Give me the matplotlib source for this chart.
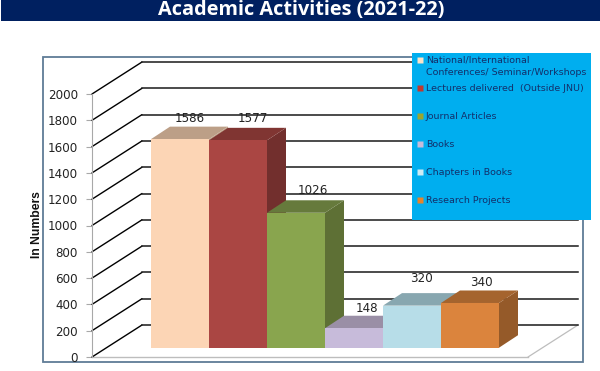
import matplotlib
matplotlib.use("Agg")
import matplotlib.pyplot as plt
from matplotlib.lines import Line2D
from matplotlib.patches import Rectangle
from matplotlib.transforms import Affine2D

categories = ["National/International\nConferences/ Seminar/Workshops",
              "Lectures delivered  (Outside JNU)", "Journal Articles", "Books",
              "Chapters in Books", "Research Projects"]
values = [1586, 1577, 1026, 148, 320, 340]
y_ticks = [0, 200, 400, 600, 800, 1000, 1200, 1400, 1600, 1800, 2000]
front_colors = ["#FCD5B5", "#AA4643", "#89A54E", "#C7BBDA", "#B7DDE8", "#DB843D"]
top_colors = ["#BC9F87", "#803532", "#667A3C", "#9A8FA6", "#88A7B0", "#A5642E"]
side_colors = ["#BC9F87", "#722F2D", "#5E7035", "#8A7F96", "#7D9AA3", "#955A29"]
legend_colors = ["#FCE3C8", "#C0392F", "#9BA52F", "#C7BBDA", "#CDEBF5", "#E8832A"]
label_offsets = [(0, 2), (5, 3), (7, 3), (3, 1), (-1, 8), (1, 1)]
legend_rows = [53.5, 88, 116, 144, 172, 200]

W, H = 600, 371
fig = plt.figure(figsize=(6, 3.71), dpi=100, facecolor="white")
def fx(px): return px / W
def fy(py): return 1 - py / H

# title band and frame
fig.add_artist(Rectangle((fx(1), fy(21)), 599 / W, 21 / H, transform=fig.transFigure,
                         fc="#002060", ec="none", zorder=0))
fig.text(fx(301), fy(10), "Academic Activities (2021-22)", color="white", ha="center",
         va="center", fontsize=14.3, fontweight="bold", family="Open Sans")
fig.add_artist(Rectangle((fx(43), fy(362)), 540 / W, 305 / H, transform=fig.transFigure,
                         fc="white", ec="#5F7C96", lw=1.3, zorder=0))

ax = fig.add_axes([fx(92), fy(357), 436 / W, 263 / H], zorder=1)
ax.patch.set_alpha(0)
ax.set_xlim((92 - 151) / 58, (528 - 151) / 58)
ax.set_ylim(0, 2000)
for s in ["top", "right", "bottom"]:
    ax.spines[s].set_visible(False)
ax.spines["left"].set_color("#A8A8A8")
ax.set_xticks([])
ax.set_yticks(y_ticks)
ax.tick_params(axis="y", length=4, width=0.8, color="#A8A8A8", labelsize=8.6,
               labelcolor="#222222", pad=6)
fig.text(fx(36.5), fy(225), "In Numbers", rotation=90, ha="center", va="center",
         fontsize=8.7, fontweight="bold", family="Liberation Sans", color="#111111")

x0, x1 = ax.get_xlim()
DX, DY = 50, 32
data = ax.transData
wall = data + Affine2D().translate(DX, DY)

# floor
ax.plot([x0, x1], [0, 0], color="#BDBDBD", lw=1, clip_on=False, zorder=1)
ax.annotate("", xy=(x1, 0), xycoords=wall, xytext=(x1, 0), textcoords=data,
            arrowprops=dict(arrowstyle="-", color="#BDBDBD", lw=0.9, shrinkA=0, shrinkB=0),
            zorder=1)

# gridlines: slanted side wall + back wall
for t in y_ticks:
    ax.annotate("", xy=(x0, t), xycoords=wall, xytext=(x0, t), textcoords=data,
                arrowprops=dict(arrowstyle="-", color="black", lw=1.0, shrinkA=0, shrinkB=0),
                annotation_clip=False, zorder=2)
    ax.plot([x0, x1], [t, t], color="#1A1A1A", lw=1.1, transform=wall, clip_on=False, zorder=2)

# bars
BY = 9.3
BDX, BDY = 19, 12.5
front = data + Affine2D().translate(0, BY)
back = front + Affine2D().translate(BDX, BDY)
for i, (v, fc, tc, sc) in enumerate(zip(values, front_colors, top_colors, side_colors)):
    z = 3 + i * 0.1
    p1 = front.transform((i + 1, 0))
    p2 = front.transform((i + 1, v))
    p3 = front.transform((i, v))
    side = [p1, (p1[0] + BDX, p1[1] + BDY), (p2[0] + BDX, p2[1] + BDY), p2]
    top = [p3, p2, (p2[0] + BDX, p2[1] + BDY), (p3[0] + BDX, p3[1] + BDY)]
    ax.fill(*zip(*side), color=sc, lw=0, transform=None, clip_on=False, zorder=z)
    ax.fill(*zip(*top), color=tc, lw=0, transform=None, clip_on=False, zorder=z)
    ax.bar(i + 0.5, v, width=1, color=fc, lw=0, transform=front, clip_on=False, zorder=z + 0.01)
    ox, oy = label_offsets[i]
    ax.annotate(str(v), xy=(i + 0.5, v), xycoords=back, xytext=(ox - 9, oy),
                textcoords="offset pixels", ha="center", va="bottom", fontsize=8.6,
                color="#222222", zorder=8, annotation_clip=False)

# legend panel, placed by hand because its rows are unevenly spaced
fig.add_artist(Rectangle((fx(412), fy(219.5)), 179 / W, 166.5 / H, transform=fig.transFigure,
                         fc="#00AEEF", ec="none", zorder=2))
for label, color, row in zip(categories, legend_colors, legend_rows):
    first_line_y = row + 6.5 if "\n" in label else row
    fig.add_artist(Line2D([fx(420)], [fy(first_line_y)], ls="none", marker="s", ms=4.6, mfc=color,
                          mec="none", transform=fig.transFigure, zorder=3))
    fig.text(fx(426), fy(row - 4.2 if "\n" not in label else row + 2), label, ha="left", va="top",
             fontsize=6.8, color="#13306B", linespacing=1.45, zorder=3)

fig.savefig("out.png", dpi=100)
